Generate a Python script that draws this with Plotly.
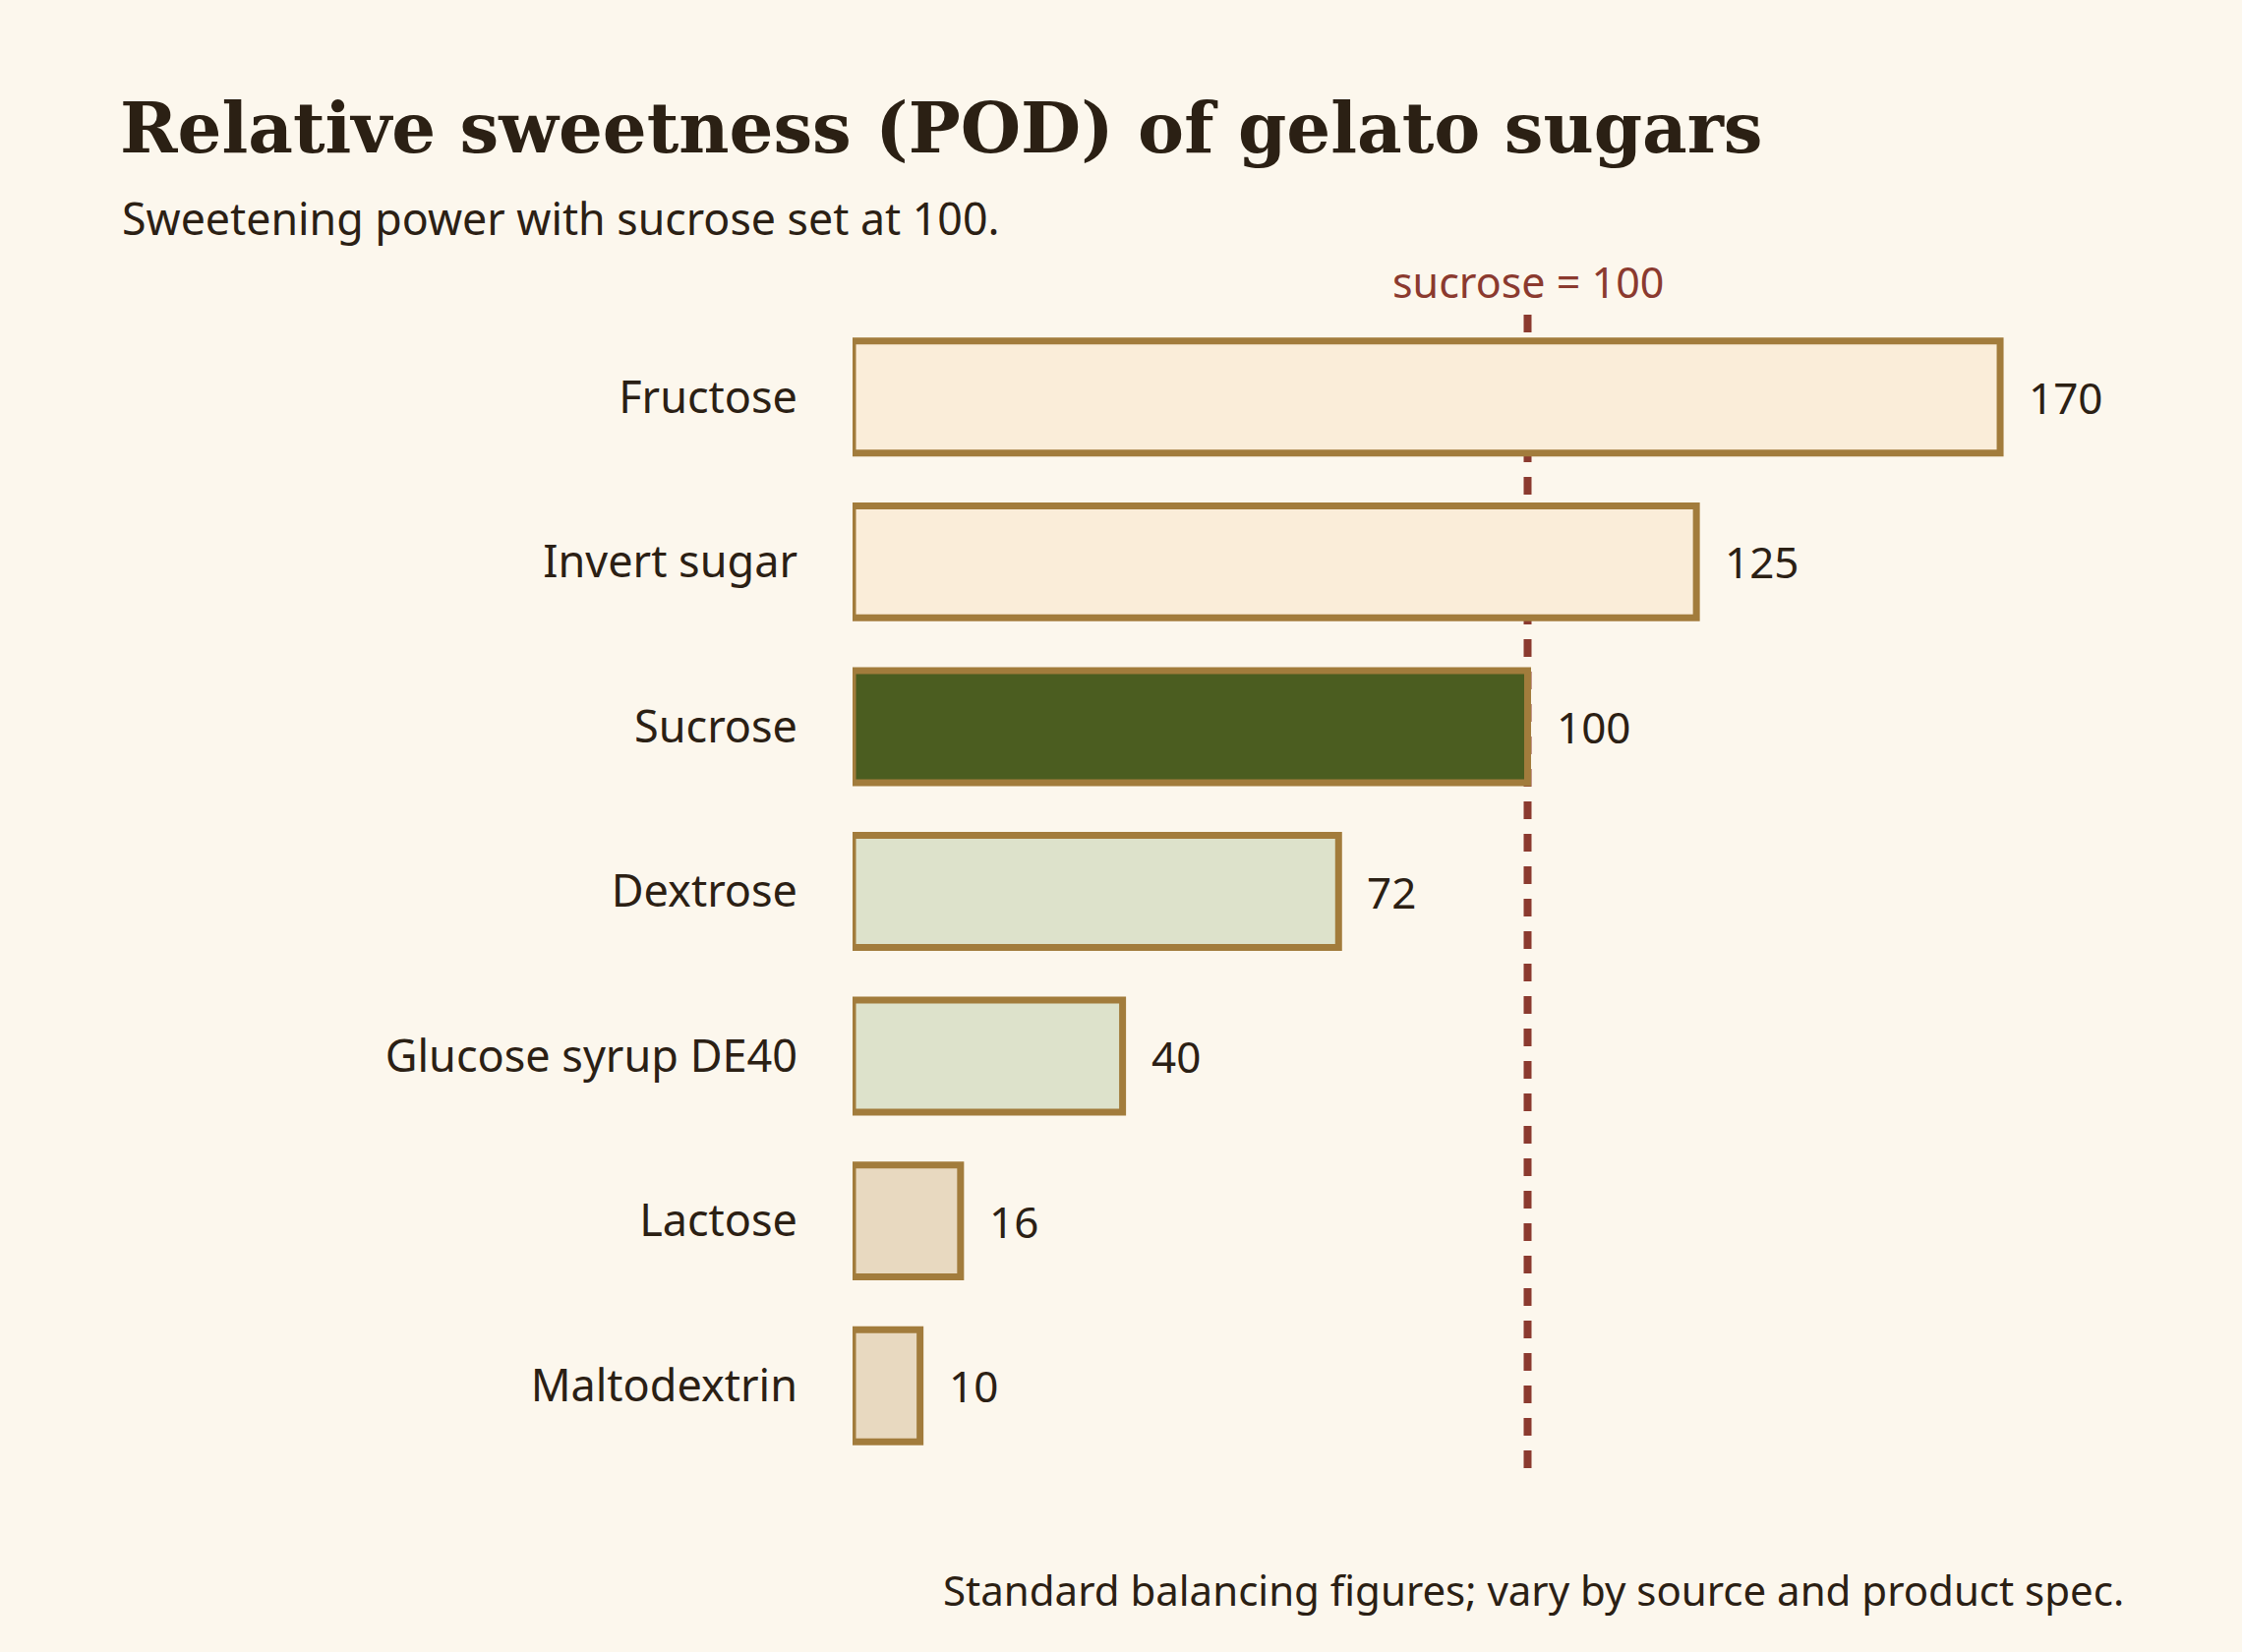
import plotly.graph_objects as go

categories = ["Fructose", "Invert sugar", "Sucrose", "Dextrose", "Glucose syrup DE40", "Lactose", "Maltodextrin"]
pod_values = [170, 125, 100, 72, 40, 16, 10]
fill_colors = ["#FAEDD9", "#FAEDD9", "#4B5D20", "#DDE2CB", "#DDE2CB", "#E8D9C0", "#E8D9C0"]
reference_value = 100

BG = "#FCF7ED"
INK = "#2B2014"
OUTLINE = "#A27C3C"
REF = "#8B3A2F"
SANS = "Segoe UI, Noto Sans, Open Sans, sans-serif"
SERIF = "Georgia, DejaVu Serif, serif"

ML, MR, MT, MB = 867, 119, 320, 187
W, H = 2280, 1680

fig = go.Figure()
fig.add_trace(go.Bar(
    x=pod_values, y=categories, orientation="h",
    marker=dict(color=fill_colors, line=dict(color=OUTLINE, width=7)),
    hoverinfo="x+y", showlegend=False,
))

for cat, v in zip(categories, pod_values):
    fig.add_annotation(x=v, y=cat, xref="x", yref="y", text=str(v), showarrow=False,
                       xanchor="left", yanchor="middle", xshift=27,
                       font=dict(family=SANS, size=44, color=INK))

fig.add_shape(type="line", xref="x", yref="paper", x0=reference_value, x1=reference_value,
              y0=1, y1=0, layer="below", line=dict(color=REF, width=8, dash="18px,15px"))
fig.add_annotation(x=reference_value, y=1, xref="x", yref="paper", text="sucrose = 100",
                   showarrow=False, xanchor="center", yanchor="bottom", yshift=2,
                   font=dict(family=SANS, size=43, color=REF))

plot_h = H - MT - MB
plot_w = W - ML - MR
def px_to_paper_x(px):
    return (px - ML) / plot_w
def px_to_paper_y(py):
    return (H - MB - py) / plot_h

fig.update_layout(
    width=W, height=H,
    paper_bgcolor=BG, plot_bgcolor=BG,
    margin=dict(l=ML, r=MR, t=MT, b=MB),
    bargap=0.32,
    title=dict(text="<b>Relative sweetness (POD) of gelato sugars</b>",
               xref="container", yref="container", x=122 / W, xanchor="left",
               y=1 - 130 / H, yanchor="middle",
               font=dict(family=SERIF, size=70.5, color=INK)),
    xaxis=dict(range=[0, 100 * plot_w / (1553.5 - ML)], visible=False, showgrid=False, zeroline=False),
    yaxis=dict(autorange=False, range=[6.5, -0.5], showgrid=False, zeroline=False,
               showline=False, ticks="", ticklabelstandoff=55,
               tickfont=dict(family=SANS, size=45, color=INK)),
    font=dict(family=SANS, color=INK),
)

fig.add_annotation(x=px_to_paper_x(122), y=px_to_paper_y(221), xref="paper", yref="paper",
                   text="Sweetening power with sucrose set at 100.", showarrow=False,
                   xanchor="left", yanchor="middle",
                   font=dict(family=SANS, size=44.7, color=INK))
fig.add_annotation(x=px_to_paper_x(2162), y=px_to_paper_y(1616), xref="paper", yref="paper",
                   text="Standard balancing figures; vary by source and product spec.", showarrow=False,
                   xanchor="right", yanchor="middle",
                   font=dict(family=SANS, size=42, color=INK))

fig.write_html("out.html")
